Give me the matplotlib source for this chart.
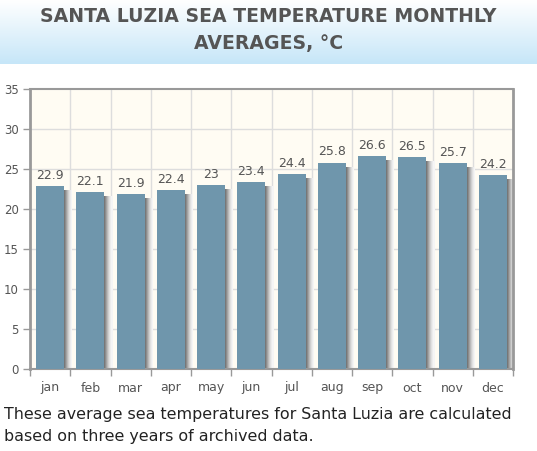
import numpy as np
import matplotlib
matplotlib.use("Agg")
from matplotlib import pyplot as plt

plt.rcParams['font.family'] = ['DejaVu Sans']

# monthly sea temperature averages
months = ['jan', 'feb', 'mar', 'apr', 'may', 'jun',
          'jul', 'aug', 'sep', 'oct', 'nov', 'dec']
temps = [22.9, 22.1, 21.9, 22.4, 23, 23.4, 24.4, 25.8, 26.6, 26.5, 25.7, 24.2]
labels = ['22.9', '22.1', '21.9', '22.4', '23', '23.4',
          '24.4', '25.8', '26.6', '26.5', '25.7', '24.2']
yticks = [0, 5, 10, 15, 20, 25, 30, 35]

W, H = 537, 451
fig = plt.figure(figsize=(W / 100, H / 100), dpi=100)
fig.patch.set_facecolor('white')

# header with light blue gradient
hdr = fig.add_axes([0, 1 - 64 / H, 1, 64 / H])
grad = np.linspace(0, 1, 100).reshape(-1, 1)
c_top = np.array([1.0, 1.0, 1.0])
c_bot = np.array([0xc6, 0xe6, 0xf8]) / 255
img = c_top + (c_bot - c_top) * grad[:, :, None]
hdr.imshow(img, aspect='auto', extent=[0, 1, 0, 1])
hdr.set_axis_off()
fig.text(0.5, 1 - 17 / H, 'SANTA LUZIA SEA TEMPERATURE MONTHLY',
         ha='center', va='center', fontsize=13.6, fontweight='bold', color='#555555')
fig.text(0.5, 1 - 43 / H, 'AVERAGES, °C',
         ha='center', va='center', fontsize=13.6, fontweight='bold', color='#555555')

# main plot
ax = fig.add_axes([30 / W, (H - 369) / H, 483 / W, 280 / H])
ax.set_facecolor('#fffcf3')
x = np.arange(len(months))

# bar shadows (gradient strips to the right of each bar)
shade = ['#777777', '#8c8c8c', '#a3a3a3', '#bababa', '#cfcfcf', '#e0e0e0', '#ececec', '#f5f5f5']
for k, c in enumerate(shade):
    ax.bar(x + 0.35 + 0.025 * k + 0.0125, np.array(temps) - 0.5, width=0.028,
           color=c, zorder=2, linewidth=0)
ax.bar(x, temps, width=0.7, color='#6f96ac', zorder=3, linewidth=0)

for xi, t, lab in zip(x, temps, labels):
    ax.annotate(lab, (xi, t), xytext=(0, 3), textcoords='offset points',
                ha='center', va='bottom', fontsize=9, color='#555555', zorder=4)

ax.set_xlim(-0.5, len(months) - 0.5)
ax.set_ylim(0, 35)
ax.set_yticks(yticks)
ax.set_yticklabels([str(v) for v in yticks], fontsize=8.5, color='#555555')
ax.set_xticks(x)
ax.set_xticklabels(months, fontsize=9, color='#555555')
ax.tick_params(axis='x', length=0, pad=9)
ax.tick_params(axis='y', length=5, width=1, color='#999999', pad=3)
ax.set_xticks(np.arange(-0.5, len(months), 1), minor=True)
ax.tick_params(axis='x', which='minor', length=5, width=1, color='#999999')

for v in yticks[1:-1]:
    ax.axhline(v, color='#dddddd', lw=1, zorder=1)
for b in np.arange(0.5, len(months) - 0.5, 1):
    ax.axvline(b, color='#dddddd', lw=1, zorder=1)

for s in ['left', 'top', 'right', 'bottom']:
    ax.spines[s].set_color('#999999')
    ax.spines[s].set_linewidth(1.5)
ax.spines['left'].set_linewidth(2)
ax.spines['right'].set_linewidth(2)

fig.text(4 / W, 1 - 415 / H,
         'These average sea temperatures for Santa Luzia are calculated',
         ha='left', va='center', fontsize=11.45, color='#222222')
fig.text(4 / W, 1 - 437 / H, 'based on three years of archived data.',
         ha='left', va='center', fontsize=11.45, color='#222222')

fig.savefig('out.png', dpi=100)
